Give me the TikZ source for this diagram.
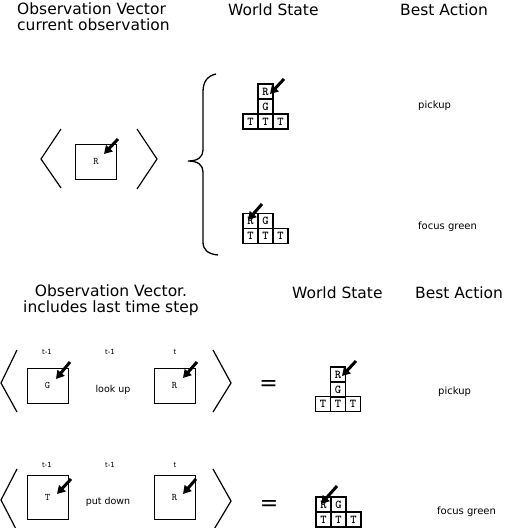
\documentclass[tikz,border=0pt]{standalone}
\usepackage{fontspec}
\setmainfont{DejaVu Sans}
\usetikzlibrary{arrows.meta}
\begin{document}
\begin{tikzpicture}[x=1pt,y=-1pt,
  title/.style={font=\fontsize{15.5}{17}\selectfont, inner sep=0},
  act/.style={font=\fontsize{10}{12}\selectfont, anchor=west, inner sep=0},
  tlab/.style={font=\fontsize{7}{8}\selectfont, inner sep=0},
  obsbox/.style={draw, line width=0.9, inner sep=0, minimum width=41, font=\ttfamily\fontsize{10}{11}\selectfont},
  blk/.style={draw, line width=1.3, minimum size=15, inner sep=0, font=\ttfamily\bfseries\fontsize{12}{12}\selectfont},
  ang/.style={line width=1.2},
  ptr/.style={line width=3, -{Triangle[length=8,width=9]}},
  eq/.style={font=\fontsize{22}{22}\selectfont, inner sep=0}
]
\useasboundingbox (0,0) rectangle (504,528);

% ---------- section 1 ----------
\node[title, anchor=north west, align=left] (t1) at (17,3) {Observation Vector\\[-1pt]current observation};
\node[title, anchor=north west] (w1) at (228,4) {World State};
\node[title, anchor=north west] (b1) at (400,4) {Best Action};

\draw[ang] (61,129) -- (41,159) -- (61,188);
\draw[ang] (137,129) -- (157,159) -- (137,189);
\node[obsbox, minimum height=35] (o1) at (96,161.5) {R};
\coordinate (o1t) at (118,139);
\coordinate (o1h) at (104,154);
\draw[ptr] (o1t) -- (o1h);

\draw[line width=1.3] (216,74) .. controls (207,76) and (203,82) .. (203,92) -- (203,150)
  .. controls (203,157) and (198,161) .. (188,161) .. controls (198,161) and (203,165) .. (203,172)
  -- (203,242) .. controls (203,250) and (208,254) .. (218,255);

\node[blk] (a1r) at (265.5,91.5) {R};
\node[blk] (a1g) at (265.5,106.5) {G};
\node[blk] (a1t1) at (250.5,121.5) {T};
\node[blk] (a1t2) at (265.5,121.5) {T};
\node[blk] (a1t3) at (280.5,121.5) {T};
\coordinate (a1at) at (284,79);
\coordinate (a1ah) at (270,94);
\draw[ptr] (a1at) -- (a1ah);

\node[blk] (a2r) at (250.5,221) {R};
\node[blk] (a2g) at (265.5,221) {G};
\node[blk] (a2t1) at (250.5,236) {T};
\node[blk] (a2t2) at (265.5,236) {T};
\node[blk] (a2t3) at (280.5,236) {T};
\coordinate (a2at) at (262,204);
\coordinate (a2ah) at (248,220);
\draw[ptr] (a2at) -- (a2ah);

\node[act] (p1) at (418,106) {pickup};
\node[act] (f1) at (418,227) {focus green};

% ---------- section 2 ----------
\node[title, anchor=north, align=center] (t2) at (111,285) {Observation Vector.\\[-1pt]includes last time step};
\node[title, anchor=north west] (w2) at (292,287) {World State};
\node[title, anchor=north west] (b2) at (415,287) {Best Action};

\draw[ang] (17,350) -- (1,383) -- (17,412);
\draw[ang] (213,350) -- (231,383) -- (213,412);
\node[tlab] (l21) at (47,352) {t-1};
\node[tlab] (l22) at (110,352) {t-1};
\node[tlab] (l23) at (175,352) {t};
\node[obsbox, minimum height=35] (g2) at (47.5,385.5) {G};
\node[obsbox, minimum height=35] (r2) at (174.5,385.5) {R};
\node[font=\fontsize{9.5}{11}\selectfont, inner sep=0] (lu) at (113,390) {look up};
\coordinate (g2t) at (70,362);
\coordinate (g2h) at (56,379);
\draw[ptr] (g2t) -- (g2h);
\coordinate (r2t) at (197,362);
\coordinate (r2h) at (183,378);
\draw[ptr] (r2t) -- (r2h);

\node[eq] (e2) at (268.5,385) {=};

\node[blk] (s2r) at (338,374.5) {R};
\node[blk] (s2g) at (338,389.5) {G};
\node[blk] (s2t1) at (323,404) {T};
\node[blk] (s2t2) at (338,404) {T};
\node[blk] (s2t3) at (353,404) {T};
\coordinate (s2at) at (356,361);
\coordinate (s2ah) at (342,376);
\draw[ptr] (s2at) -- (s2ah);

\node[act] (p2) at (438,392) {pickup};

% ---------- section 3 ----------
\draw[ang] (17,469) -- (1,500) -- (17,531);
\draw[ang] (213,469) -- (231,501) -- (213,531);
\node[tlab] (l31) at (47,465) {t-1};
\node[tlab] (l32) at (110,465) {t-1};
\node[tlab] (l33) at (175,465) {t};
\node[obsbox, minimum height=44] (g3) at (47.5,497) {T};
\node[obsbox, minimum height=44] (r3) at (174.5,497) {R};
\node[font=\fontsize{9.5}{11}\selectfont, inner sep=0] (pd) at (108,502) {put down};
\coordinate (g3t) at (71,479);
\coordinate (g3h) at (57,494);
\draw[ptr] (g3t) -- (g3h);
\coordinate (r3t) at (196,479);
\coordinate (r3h) at (183,494);
\draw[ptr] (r3t) -- (r3h);

\node[eq] (e3) at (269,505.5) {=};

\node[blk] (s3r) at (323.5,504.5) {R};
\node[blk] (s3g) at (338.5,504.5) {G};
\node[blk] (s3t1) at (323.5,519.5) {T};
\node[blk] (s3t2) at (338.5,519.5) {T};
\node[blk] (s3t3) at (353.5,519.5) {T};
\coordinate (s3at) at (337,486);
\coordinate (s3ah) at (321,504);
\draw[ptr] (s3at) -- (s3ah);

\node[act] (f3) at (437,512) {focus green};
\end{tikzpicture}
\end{document}
